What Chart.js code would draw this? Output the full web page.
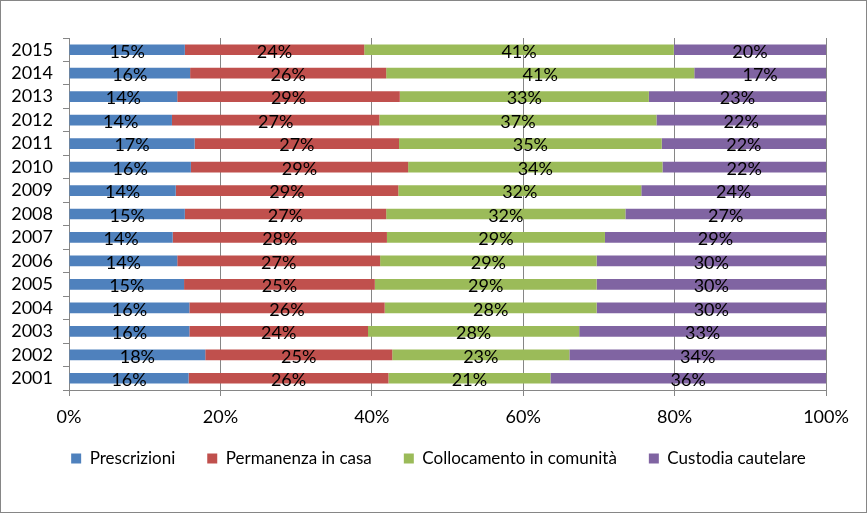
<!DOCTYPE html>
<html>
<head>
<meta charset="utf-8">
<script src="https://cdn.jsdelivr.net/npm/chart.js@4.4.0/dist/chart.umd.min.js"></script>
<style>
  html, body { margin: 0; padding: 0; background: #fff; }
  #wrap { width: 867px; height: 513px; }
</style>
</head>
<body>
<div id="wrap"><canvas id="chart" width="867" height="513"></canvas></div>
<script>
// years, top to bottom as in the picture
const years = ['2015', '2014', '2013', '2012', '2011', '2010', '2009', '2008',
  '2007', '2006', '2005', '2004', '2003', '2002', '2001'];

// shares per year (%)
const prescrizioni = [15.3, 16.0, 14.3, 13.6, 16.6, 16.1, 14.1, 15.3, 13.7, 14.3, 15.2, 15.9, 15.9, 18.0, 15.8];
const permanenza = [23.7, 25.9, 29.4, 27.4, 27.0, 28.7, 29.4, 26.6, 28.3, 26.8, 25.2, 25.8, 23.6, 24.7, 26.4];
const collocamento = [40.9, 40.7, 32.9, 36.6, 34.7, 33.6, 32.1, 31.6, 28.8, 28.6, 29.3, 28.0, 27.9, 23.4, 21.4];
const custodia = [20.1, 17.4, 23.4, 22.4, 21.7, 21.6, 24.4, 26.5, 29.2, 30.3, 30.3, 30.3, 32.6, 33.9, 36.4];

const seriesNames = ['Prescrizioni', 'Permanenza in casa', 'Collocamento in comunità', 'Custodia cautelare'];
const seriesColors = ['#4F81BD', '#C0504D', '#9BBB59', '#8064A2'];
const xTicks = [0, 20, 40, 60, 80, 100];

const FONT = 'Lato, "Open Sans", sans-serif';
const AXIS_GREY = '#868686';

// white background plus the thin frame round the whole chart
const framePlugin = {
  id: 'frame',
  afterLayout(chart) {
    // legend sits centred on the whole picture and a bit higher up
    const lg = chart.legend;
    if (lg) {
      lg.left = 25;
      lg.right = 852;
      lg.top -= 12;
      lg.bottom -= 12;
    }
  },
  beforeDraw(chart) {
    const ctx = chart.ctx;
    ctx.save();
    ctx.fillStyle = '#fff';
    ctx.fillRect(0, 0, chart.width, chart.height);
    ctx.strokeStyle = AXIS_GREY;
    ctx.lineWidth = 1;
    ctx.strokeRect(0.5, 0.5, chart.width - 1, chart.height - 1);
    ctx.restore();
  }
};

// percentage label in the middle of every segment
const segmentLabels = {
  id: 'segmentLabels',
  afterDatasetsDraw(chart) {
    const ctx = chart.ctx;
    ctx.save();
    ctx.font = '18px ' + FONT;
    ctx.fillStyle = '#000';
    ctx.textAlign = 'center';
    ctx.textBaseline = 'middle';
    chart.data.datasets.forEach((ds, i) => {
      const meta = chart.getDatasetMeta(i);
      meta.data.forEach((bar, j) => {
        const cx = (bar.x + bar.base) / 2;
        ctx.fillText(Math.round(ds.data[j]) + '%', cx, bar.y + 2);
      });
    });
    ctx.restore();
  }
};

const allSeries = [prescrizioni, permanenza, collocamento, custodia];

new Chart(document.getElementById('chart'), {
  type: 'bar',
  data: {
    labels: years,
    datasets: allSeries.map((values, i) => ({
      label: seriesNames[i],
      data: values,
      backgroundColor: seriesColors[i],
      borderWidth: 0,
      barPercentage: 0.6,
      categoryPercentage: 0.76
    }))
  },
  options: {
    indexAxis: 'y',
    responsive: false,
    animation: false,
    layout: { padding: { top: 38, right: 41, left: 0, bottom: 24 } },
    scales: {
      x: {
        stacked: true,
        min: 0,
        max: 100,
        afterBuildTicks(scale) {
          scale.ticks = xTicks.map(v => ({ value: v }));
        },
        afterFit(scale) { scale.height = 40; },
        grid: { color: AXIS_GREY, tickLength: 6, drawTicks: true },
        border: { color: AXIS_GREY },
        ticks: {
          color: '#000',
          font: { family: FONT, size: 18 },
          padding: 10,
          maxRotation: 0,
          callback: v => v + '%'
        }
      },
      y: {
        stacked: true,
        afterFit(scale) { scale.width = 69; },
        grid: { drawOnChartArea: false, color: AXIS_GREY, tickLength: 6, offset: true },
        border: { color: AXIS_GREY },
        ticks: {
          color: '#000',
          font: { family: FONT, size: 18 },
          padding: 10,
          autoSkip: false
        }
      }
    },
    plugins: {
      legend: {
        position: 'bottom',
        labels: {
          color: '#000',
          font: { family: FONT, size: 17 },
          boxWidth: 10,
          boxHeight: 10,
          padding: 32
        }
      },
      tooltip: { enabled: false }
    }
  },
  plugins: [framePlugin, segmentLabels]
});
</script>
</body>
</html>
